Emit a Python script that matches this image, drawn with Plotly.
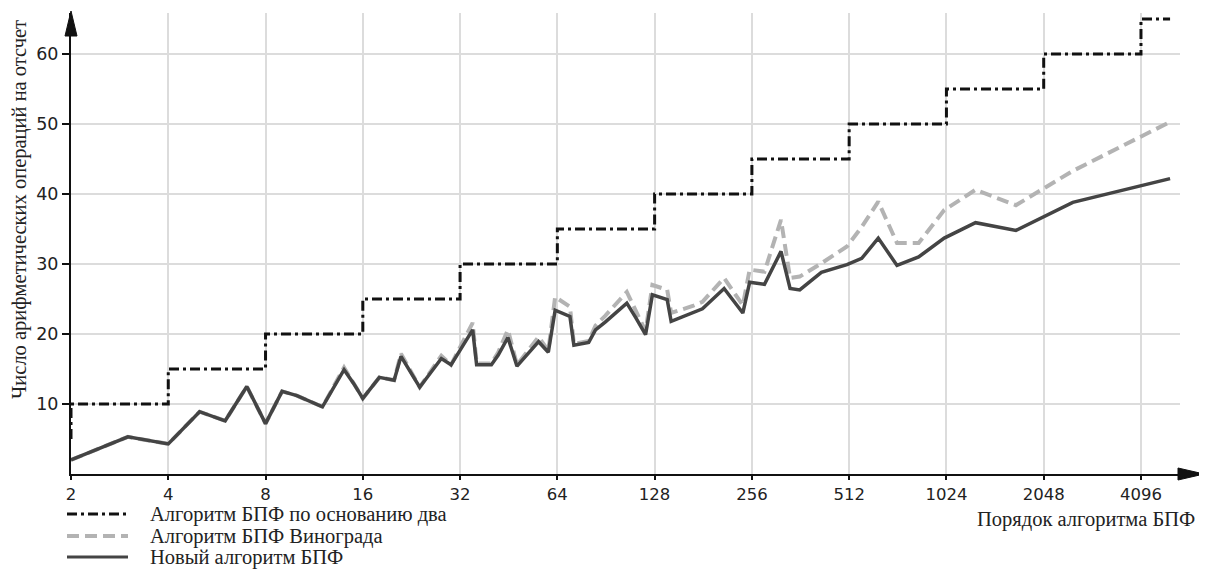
import math
import plotly.graph_objects as go

# ---------------- data ----------------
N_radix2 = [2, 4, 8, 16, 32, 64, 128, 256, 512, 1024, 2048, 4096, 5040]
ops_radix2 = [5, 10, 15, 20, 25, 30, 35, 40, 45, 50, 55, 60, 65]

N_lengths = [2, 3, 4, 5, 6, 7, 8, 9, 10, 12, 14, 15, 16, 18, 20, 21, 24, 28, 30,
             35, 36, 40, 42, 45, 48, 56, 60, 63, 70, 72, 80, 84, 90, 105, 112,
             120, 126, 140, 144, 168, 180, 210, 240, 252, 280, 315, 336, 360,
             420, 504, 560, 630, 720, 840, 1008, 1260, 1680, 2520, 5040]

ops_winograd = [2.0, 5.3, 4.3, 8.9, 7.6, 12.5, 7.2, 11.8, 11.2, 9.6, 15.2, 12.9,
                10.8, 13.8, 13.4, 17.2, 12.4, 16.9, 15.6,
                21.6, 15.8, 15.8, 17.4, 20.6, 15.6, 19.6, 17.6, 25.3, 23.9, 18.6,
                19.0, 21.2, 22.6, 26.0, 23.4, 20.4, 27.0, 26.3, 23.0, 24.0, 24.6,
                28.0, 24.1, 29.2, 28.9, 36.3, 28.0, 28.2, 30.1, 32.5, 35.3, 38.9,
                33.0, 33.0, 37.7, 40.6, 38.4, 43.3, 50.3]

ops_new = [2.0, 5.3, 4.3, 8.9, 7.6, 12.5, 7.2, 11.8, 11.2, 9.6, 14.9, 12.9,
           10.8, 13.8, 13.4, 16.8, 12.4, 16.5, 15.6,
           20.6, 15.6, 15.6, 17.0, 19.5, 15.4, 18.9, 17.4, 23.4, 22.5, 18.4,
           18.8, 20.6, 21.7, 24.4, 22.3, 19.9, 25.6, 24.9, 21.8, 23.0, 23.6,
           26.5, 23.0, 27.4, 27.1, 31.8, 26.5, 26.3, 28.8, 29.9, 30.8, 33.7,
           29.8, 31.0, 33.7, 35.9, 34.8, 38.8, 42.2]

x_ticks = [2, 4, 8, 16, 32, 64, 128, 256, 512, 1024, 2048, 4096]
y_ticks = [10, 20, 30, 40, 50, 60]

legend_names = ["Алгоритм БПФ по основанию два",
                "Алгоритм БПФ Винограда",
                "Новый алгоритм БПФ"]
x_title = "Порядок алгоритма БПФ"
y_title = "Число арифметических операций на отсчет"

# ---------------- layout geometry ----------------
W, H = 1207, 569
OFF = 8  # page body margin offset
L, R, T, B = 63, 35, 5, 103
plot_w = W - L - R
plot_h = H - T - B
px_per_oct = 97.27
x_max = 2 * 2 ** (plot_w / px_per_oct)
y_max = plot_h / 7.0


def pxx(xp):
    """page x pixel -> paper x"""
    return (xp - OFF - L) / plot_w


def pyy(yp):
    """page y pixel -> paper y"""
    return (H - B - (yp - OFF)) / plot_h


DASHDOT = "10px,4px,3px,4px"
DASH = "12px,6px"
C_RADIX = "#111111"
C_WINO = "#b3b3b3"
C_NEW = "#444444"

fig = go.Figure()
fig.add_trace(go.Scatter(x=N_radix2, y=ops_radix2, mode="lines", line_shape="vh",
                         line=dict(color=C_RADIX, width=3, dash=DASHDOT),
                         name=legend_names[0], showlegend=False))
fig.add_trace(go.Scatter(x=N_lengths, y=ops_winograd, mode="lines",
                         line=dict(color=C_WINO, width=4, dash=DASH),
                         name=legend_names[1], showlegend=False))
fig.add_trace(go.Scatter(x=N_lengths, y=ops_new, mode="lines",
                         line=dict(color=C_NEW, width=3.5),
                         name=legend_names[2], showlegend=False))

xtick_font = dict(family="DejaVu Sans", size=16.5, color="#222222")
ytick_font = dict(family="DejaVu Sans", size=17.5, color="#222222")
serif = dict(family="Liberation Serif", size=20.5, color="#222222")

fig.update_xaxes(type="log", range=[math.log10(2) - 1e-5, math.log10(x_max)],
                 tickvals=x_ticks, ticktext=[str(v) for v in x_ticks],
                 tickfont=xtick_font, ticks="outside", ticklen=4, tickwidth=2,
                 tickcolor="#111111",
                 showgrid=True, gridcolor="#dcdcdc", gridwidth=1.5,
                 showline=True, linecolor="#111111", linewidth=2,
                 zeroline=False)
fig.update_yaxes(range=[0, y_max], tickvals=y_ticks,
                 tickfont=ytick_font, ticks="outside", ticklen=7, tickwidth=2,
                 tickcolor="#111111",
                 showgrid=True, gridcolor="#dcdcdc", gridwidth=1.5,
                 showline=True, linecolor="#111111", linewidth=2,
                 zeroline=False)

shapes = []
annotations = []

# axis arrowheads
shapes.append(dict(type="path", xref="paper", yref="paper",
                   path=f"M {pxx(1178)} {pyy(468)} L {pxx(1204)} {pyy(474)} L {pxx(1178)} {pyy(480)} Z",
                   fillcolor="#111111", line=dict(color="#111111", width=1)))
shapes.append(dict(type="path", xref="paper", yref="paper",
                   path=f"M {pxx(65)} {pyy(36)} L {pxx(71)} {pyy(11)} L {pxx(77)} {pyy(36)} Z",
                   fillcolor="#111111", line=dict(color="#111111", width=1)))

# legend (drawn manually)
legend_rows = [514, 536, 557]
legend_styles = [dict(color=C_RADIX, width=3, dash=DASHDOT),
                 dict(color=C_WINO, width=4, dash=DASH),
                 dict(color=C_NEW, width=3)]
for name, yrow, st in zip(legend_names, legend_rows, legend_styles):
    shapes.append(dict(type="line", xref="paper", yref="paper",
                       x0=pxx(67), x1=pxx(128), y0=pyy(yrow), y1=pyy(yrow), line=st))
    annotations.append(dict(text=name, xref="paper", yref="paper",
                            x=pxx(148), y=pyy(yrow), xanchor="left", yanchor="middle",
                            showarrow=False, font=serif))

annotations.append(dict(text=x_title, xref="paper", yref="paper",
                        x=pxx(1197), y=pyy(519), xanchor="right", yanchor="middle",
                        showarrow=False, font=serif))
annotations.append(dict(text=y_title, xref="paper", yref="paper",
                        x=pxx(20), y=pyy(210), xanchor="center", yanchor="middle",
                        textangle=-90, showarrow=False, font=serif))

fig.update_layout(width=W, height=H, margin=dict(l=L, r=R, t=T, b=B),
                  plot_bgcolor="white", paper_bgcolor="white",
                  showlegend=False, shapes=shapes, annotations=annotations)

fig.write_html("out.html")
